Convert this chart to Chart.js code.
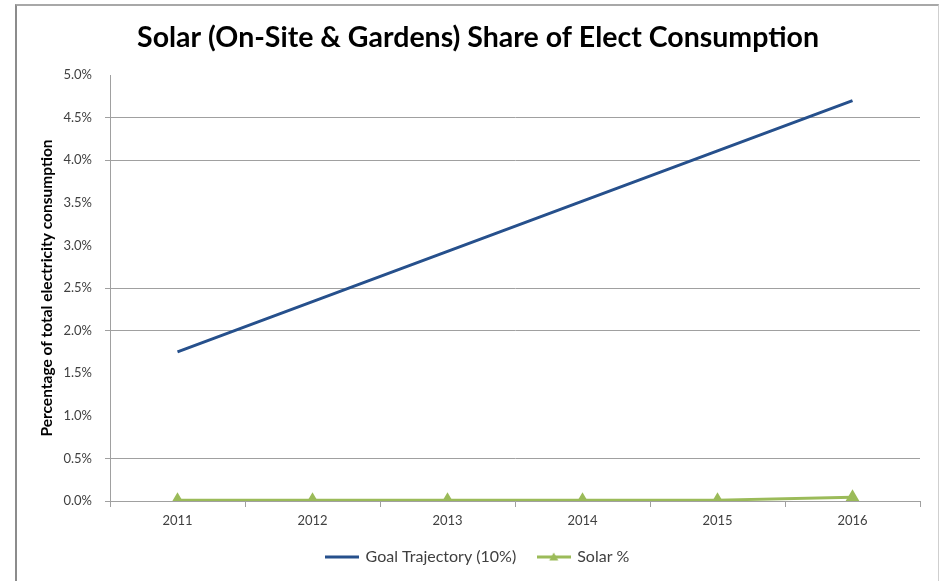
<!DOCTYPE html>
<html>
<head>
<meta charset="utf-8">
<script src="https://cdn.jsdelivr.net/npm/chart.js@4.4.1/dist/chart.umd.min.js"></script>
<style>
  html, body { margin: 0; padding: 0; background: #fff; }
  #wrap { position: relative; width: 939px; height: 581px; }
  #frame { position: absolute; left: 15px; top: 4px; width: 921px; height: 577px;
           border-left: 2px solid #8c8c8c; border-top: 2px solid #a8a8a8; border-right: 1px solid #cfcfcf;
           pointer-events: none; }
</style>
</head>
<body>
<div id="wrap">
  <canvas id="c" width="939" height="581"></canvas>
  <div id="frame"></div>
</div>
<script>
const chartTitle = 'Solar (On-Site & Gardens) Share of Elect Consumption';
const yAxisTitle = 'Percentage of total electricity consumption';
const years = ['2011', '2012', '2013', '2014', '2015', '2016'];
const goalTrajectory = [1.75, 2.34, 2.93, 3.52, 4.11, 4.70];
const solarPct = [0.01, 0.01, 0.01, 0.01, 0.01, 0.045];
const seriesNames = ['Goal Trajectory (10%)', 'Solar %'];
const yMin = 0, yMax = 5, yStep = 0.5;
// gridlines that are visible in the reference picture
const visibleGrid = [0, 0.5, 2.0, 2.5, 4.0, 4.5];

const BLUE = '#26508c';
const GREEN = '#9bbb59';
const GRID = '#a0a0a0';
const FONT = 'Lato, Carlito, Calibri, sans-serif';

function legendSwatch(color, withTriangle) {
  const c = document.createElement('canvas');
  c.width = 34; c.height = 12;
  const g = c.getContext('2d');
  g.strokeStyle = color; g.lineWidth = 3;
  g.beginPath(); g.moveTo(0, 6); g.lineTo(34, 6); g.stroke();
  if (withTriangle) {
    g.fillStyle = color;
    g.beginPath(); g.moveTo(17, 1.5); g.lineTo(21.5, 9.5); g.lineTo(12.5, 9.5); g.closePath(); g.fill();
  }
  return c;
}
const swatches = [legendSwatch(BLUE, false), legendSwatch(GREEN, true)];

new Chart(document.getElementById('c'), {
  type: 'line',
  data: {
    labels: years,
    datasets: [
      { label: seriesNames[0], data: goalTrajectory, borderColor: BLUE, backgroundColor: BLUE,
        borderWidth: 3, pointRadius: 0, tension: 0 },
      { label: seriesNames[1], data: solarPct, borderColor: GREEN, backgroundColor: GREEN,
        borderWidth: 3, pointStyle: 'triangle', pointRadius: 5, pointBackgroundColor: GREEN,
        pointBorderColor: GREEN, tension: 0 }
    ]
  },
  options: {
    responsive: false,
    animation: false,
    layout: { padding: { left: 36, right: 19, top: 0, bottom: 6 } },
    plugins: {
      title: { display: true, text: chartTitle, color: '#000',
               font: { family: FONT, size: 28.5, weight: 'bold' },
               padding: { top: 21, bottom: 19.8 } },
      legend: {
        position: 'bottom',
        labels: {
          usePointStyle: true, pointStyleWidth: 31, padding: 22,
          color: '#404040', font: { family: FONT, size: 16 },
          generateLabels(chart) {
            const items = Chart.defaults.plugins.legend.labels.generateLabels(chart);
            items.forEach((it, i) => { it.pointStyle = swatches[i]; });
            return items;
          }
        }
      },
      tooltip: { enabled: false }
    },
    scales: {
      x: {
        type: 'category',
        offset: true,
        grid: { offset: true, drawOnChartArea: false, drawTicks: true, tickLength: 6, color: GRID },
        border: { display: true, color: GRID, width: 1 },
        ticks: { color: '#404040', font: { family: FONT, size: 13 }, padding: 6, maxRotation: 0 },
        afterFit(s) { s.height = 26; }
      },
      y: {
        min: yMin, max: yMax,
        grid: {
          drawTicks: true, tickLength: 5,
          color: (ctx) => (ctx.tick && visibleGrid.some(v => Math.abs(v - ctx.tick.value) < 1e-6)) ? GRID : 'rgba(0,0,0,0)'
        },
        border: { display: true, color: GRID, width: 1 },
        ticks: { stepSize: yStep, color: '#404040', font: { family: FONT, size: 13 }, padding: 13,
                 callback: (v) => Number(v).toFixed(1) + '%' },
        title: { display: true, text: yAxisTitle, color: '#000',
                 font: { family: FONT, size: 15.5, weight: 'bold' }, padding: { top: 2, bottom: 0 } },
        afterFit(s) { s.width = 74; }
      }
    }
  }
});
</script>
</body>
</html>
